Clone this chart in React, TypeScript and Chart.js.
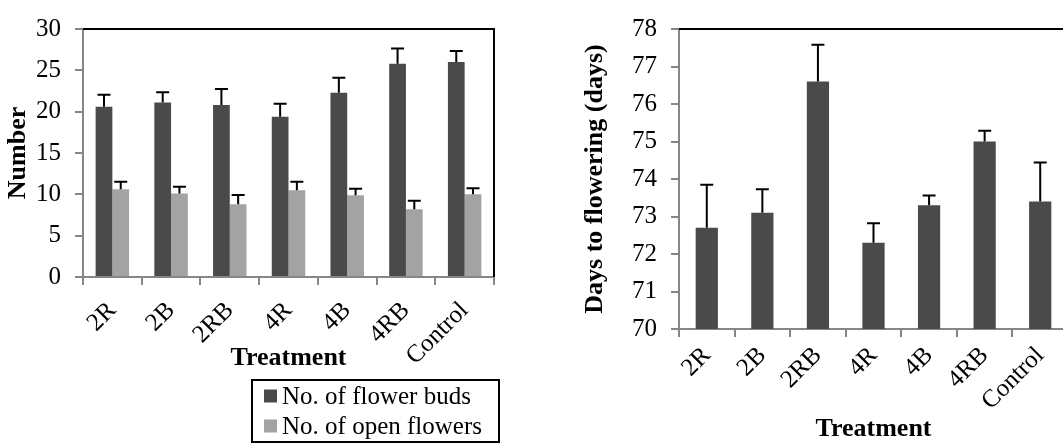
import React, { useEffect, useRef } from "react";
import { Chart, registerables } from "chart.js";

Chart.register(...registerables);

const categories = ["2R", "2B", "2RB", "4R", "4B", "4RB", "Control"];
const flowerBuds = [20.6, 21.1, 20.8, 19.4, 22.3, 25.8, 26.0];
const flowerBudsErr = [1.45, 1.25, 1.95, 1.57, 1.79, 1.84, 1.35];
const openFlowers = [10.6, 10.1, 8.8, 10.5, 9.9, 8.2, 10.0];
const openFlowersErr = [0.93, 0.82, 1.13, 1.01, 0.78, 1.02, 0.74];
const daysToFlowering = [72.7, 73.1, 76.6, 72.3, 73.3, 75.0, 73.4];
const daysErr = [1.15, 0.63, 0.98, 0.52, 0.26, 0.29, 1.04];

const seriesNames = ["No. of flower buds", "No. of open flowers"];
const darkColor = "#4a4a4a";
const lightColor = "#a3a3a3";
const axisGray = "#868686";
const FONT = "'Liberation Serif', 'Times New Roman', serif";

const errorBars = {
  id: "errorBars",
  afterDatasetsDraw(chart: any) {
    const ctx = chart.ctx;
    const y = chart.scales.y;
    chart.data.datasets.forEach((ds: any, di: number) => {
      const meta = chart.getDatasetMeta(di);
      meta.data.forEach((bar: any, i: number) => {
        const top = y.getPixelForValue(ds.data[i] + ds.errors[i]);
        ctx.save();
        ctx.strokeStyle = "#000";
        ctx.lineWidth = 2;
        ctx.beginPath();
        ctx.moveTo(bar.x, bar.y);
        ctx.lineTo(bar.x, top);
        ctx.moveTo(bar.x - 6.5, top);
        ctx.lineTo(bar.x + 6.5, top);
        ctx.stroke();
        ctx.restore();
      });
    });
  },
};

const frame = {
  id: "frame",
  afterDraw(chart: any) {
    const { ctx, chartArea } = chart;
    ctx.save();
    ctx.strokeStyle = "#000";
    ctx.lineWidth = 2;
    ctx.beginPath();
    ctx.moveTo(chartArea.left, chartArea.top);
    ctx.lineTo(chartArea.right, chartArea.top);
    ctx.lineTo(chartArea.right, chartArea.bottom);
    ctx.stroke();
    ctx.restore();
  },
};

const boxLegend = {
  id: "boxLegend",
  afterDraw(chart: any) {
    const ctx = chart.ctx;
    const x0 = 252, y0 = 380, w = 247, h = 62;
    ctx.save();
    ctx.strokeStyle = "#000";
    ctx.lineWidth = 2;
    ctx.strokeRect(x0, y0, w, h);
    ctx.font = `25px ${FONT}`;
    ctx.textBaseline = "middle";
    ctx.fillStyle = "#000";
    chart.data.datasets.forEach((ds: any, i: number) => {
      const cy = y0 + 16 + i * 30;
      ctx.fillStyle = ds.backgroundColor;
      ctx.fillRect(x0 + 12, cy - 6.5, 13, 13);
      ctx.fillStyle = "#000";
      ctx.fillText(ds.label, x0 + 30, cy + 1);
    });
    ctx.restore();
  },
};

function yScale(min: number, max: number, step: number, title: string, width: number, titlePad: number) {
  return {
    min,
    max,
    afterFit: (s: any) => {
      s.width = width;
    },
    ticks: { stepSize: step, padding: 14, color: "#000", font: { family: FONT, size: 25 } },
    grid: { drawOnChartArea: false, drawTicks: true, tickLength: 8, color: axisGray, lineWidth: 2 },
    border: { color: axisGray, width: 2 },
    title: {
      display: true,
      text: title,
      color: "#000",
      padding: { top: titlePad, bottom: 0 },
      font: { family: FONT, size: 26, weight: "bold" },
    },
  };
}

function xScale(height: number, tickPad: number, titlePad: number) {
  return {
    afterFit: (s: any) => {
      s.height = height;
    },
    ticks: {
      minRotation: 45,
      maxRotation: 45,
      autoSkip: false,
      padding: tickPad,
      color: "#000",
      font: { family: FONT, size: 25 },
    },
    grid: { drawOnChartArea: false, drawTicks: true, tickLength: 8, color: axisGray, lineWidth: 2, offset: true },
    border: { color: axisGray, width: 2 },
    title: {
      display: true,
      text: "Treatment",
      color: "#000",
      padding: { top: 0, bottom: titlePad },
      font: { family: FONT, size: 26, weight: "bold" },
    },
  };
}

export default function App() {
  const leftRef = useRef<HTMLCanvasElement>(null);
  const rightRef = useRef<HTMLCanvasElement>(null);

  useEffect(() => {
    const left = new Chart(leftRef.current!, {
      type: "bar",
      data: {
        labels: categories,
        datasets: [
          {
            label: seriesNames[0],
            data: flowerBuds,
            errors: flowerBudsErr,
            backgroundColor: darkColor,
            categoryPercentage: 0.57,
            barPercentage: 1,
          } as any,
          {
            label: seriesNames[1],
            data: openFlowers,
            errors: openFlowersErr,
            backgroundColor: lightColor,
            categoryPercentage: 0.57,
            barPercentage: 1,
          } as any,
        ],
      },
      options: {
        responsive: false,
        animation: false,
        layout: { padding: { top: 21, right: 36, bottom: 66, left: 0 } },
        plugins: { legend: { display: false }, tooltip: { enabled: false } },
        scales: {
          x: xScale(100, 11, 3),
          y: yScale(0, 30, 5, "Number", 83, 3),
        } as any,
      },
      plugins: [errorBars, frame, boxLegend],
    });

    const right = new Chart(rightRef.current!, {
      type: "bar",
      data: {
        labels: categories,
        datasets: [
          {
            label: "Days to flowering",
            data: daysToFlowering,
            errors: daysErr,
            backgroundColor: darkColor,
            categoryPercentage: 0.4,
            barPercentage: 1,
          } as any,
        ],
      },
      options: {
        responsive: false,
        animation: false,
        layout: { padding: { top: 28, right: 32, bottom: 0, left: 0 } },
        plugins: { legend: { display: false }, tooltip: { enabled: false } },
        scales: {
          x: xScale(116, 4, 0),
          y: yScale(70, 78, 1, "Days to flowering (days)", 119, 20),
        } as any,
      },
      plugins: [errorBars, frame],
    });

    return () => {
      left.destroy();
      right.destroy();
    };
  }, []);

  return (
    <div
      style={{
        position: "fixed",
        left: 0,
        top: 0,
        width: 1063,
        height: 443,
        overflow: "hidden",
        background: "#fff",
      }}
    >
      <canvas ref={leftRef} width={530} height={443} style={{ position: "absolute", left: 0, top: 0 }} />
      <canvas ref={rightRef} width={540} height={445} style={{ position: "absolute", left: 560, top: 0 }} />
    </div>
  );
}
